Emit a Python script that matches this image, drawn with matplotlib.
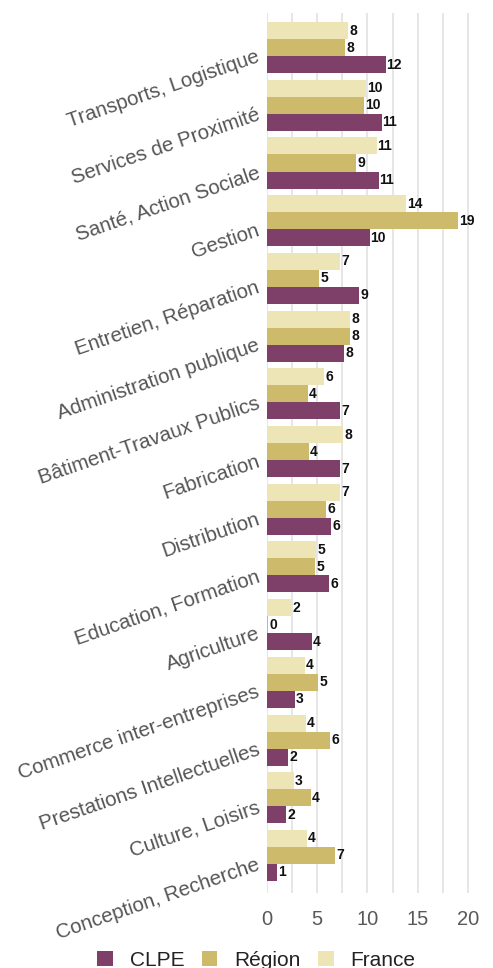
import matplotlib
matplotlib.use("Agg")
import matplotlib.pyplot as plt
import numpy as np

categories = ["Transports, Logistique", "Services de Proximité", "Santé, Action Sociale",
              "Gestion", "Entretien, Réparation", "Administration publique",
              "Bâtiment-Travaux Publics", "Fabrication", "Distribution",
              "Education, Formation", "Agriculture", "Commerce inter-entreprises",
              "Prestations Intellectuelles", "Culture, Loisirs", "Conception, Recherche"]
clpe = [11.8, 11.4, 11.1, 10.2, 9.2, 7.7, 7.3, 7.3, 6.4, 6.2, 4.5, 2.8, 2.1, 1.9, 1.0]
region = [7.8, 9.7, 8.9, 19.0, 5.2, 8.3, 4.1, 4.2, 5.9, 4.8, 0.1, 5.1, 6.3, 4.4, 6.8]
france = [8.1, 9.9, 10.9, 13.8, 7.3, 8.3, 5.7, 7.6, 7.3, 4.9, 2.4, 3.8, 3.9, 2.7, 4.0]
series_names = ["CLPE", "Région", "France"]
colors = ["#7E4068", "#CDBA6A", "#EDE5B6"]
xticks = [0, 5, 10, 15, 20]

plt.rcParams['font.family'] = ['Liberation Sans', 'DejaVu Sans']

fig = plt.figure(figsize=(4.93, 9.68), dpi=100)
ax = fig.add_axes([0.5416, 0.0775, 0.4260, 0.9091])

y = np.arange(len(categories))
h = 0.295
offsets = {"France": -h, "Région": 0.0, "CLPE": h}
data = {"CLPE": clpe, "Région": region, "France": france}
handles = []
for name, col in zip(series_names, colors):
    vals = data[name]
    bars = ax.barh(y + offsets[name], vals, height=h, color=col, label=name, zorder=3)
    handles.append(bars)
    for yy, v in zip(y + offsets[name], vals):
        ax.text(v + 0.1, yy, f"{round(v):d}", va="center", ha="left",
                fontsize=10, fontweight="bold", color="#111111", zorder=4)

ax.set_ylim(len(categories) - 0.5 + 0.15, -0.5 - 0.1)
ax.set_xlim(0, 20.9)
ax.set_xticks(xticks)
ax.set_xticks([2.5, 7.5, 12.5, 17.5], minor=True)
ax.grid(axis="x", which="both", color="#E2E2E2", linewidth=1.2, zorder=0)
ax.tick_params(axis="x", which="both", length=0, labelsize=14.5, labelcolor="#595959", pad=12)
ax.set_yticks(y)
ax.set_yticklabels(categories, rotation=19, ha="right", va="top",
                   rotation_mode="anchor", fontsize=14.8, color="#555555")
ax.tick_params(axis="y", length=0, pad=8)
for s in ax.spines.values():
    s.set_visible(False)

fig.legend(handles=handles, labels=series_names, loc="lower center", ncol=3,
           bbox_to_anchor=(0.52, -0.021), frameon=False, fontsize=15,
           handlelength=0.75, handleheight=0.75, handletextpad=0.8, columnspacing=0.85,
           labelcolor="#222222")

fig.savefig("out.png", dpi=100)
